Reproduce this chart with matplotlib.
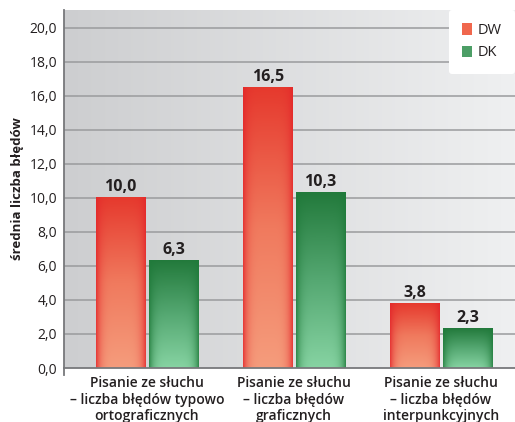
import numpy as np
import matplotlib.pyplot as plt
from matplotlib.patches import Patch
from matplotlib.colors import LinearSegmentedColormap

plt.rcParams['font.family'] = ['Open Sans', 'DejaVu Sans']

categories = ["Pisanie ze słuchu\n– liczba błędów typowo\nortograficznych",
              "Pisanie ze słuchu\n– liczba błędów\ngraficznych",
              "Pisanie ze słuchu\n– liczba błędów\ninterpunkcyjnych"]
dw = [10.0, 16.5, 3.8]
dk = [6.3, 10.3, 2.3]

fig = plt.figure(figsize=(5.15, 4.22), dpi=100)
ax = fig.add_axes([64/515, 54/422, 1 - 64/515, 358/422])

ymax = 21.05
xmin, xmax = -0.565, 2.503
ax.set_xlim(xmin, xmax)
ax.set_ylim(0, ymax)

# tlo z gradientem
bg = LinearSegmentedColormap.from_list("bg", ["#cdced0", "#eff0f1"])
ax.imshow(np.linspace(0, 1, 256).reshape(1, -1), cmap=bg, aspect='auto',
          extent=[xmin, xmax, 0, ymax], zorder=0)

for y in np.arange(2, 21, 2):
    ax.axhline(y, color="#9a9b9d", lw=1.1, zorder=1)

red = LinearSegmentedColormap.from_list("r", ["#f59c7c", "#f07a5e", "#e63a2e"])
green = LinearSegmentedColormap.from_list("g", ["#86d3a2", "#55a872", "#237a3c"])

w = 0.34
gap = 0.02
x = np.arange(len(categories))


def grad_bar(xc, h, cmap, edge):
    # pionowy gradient + ciemniejsze brzegi
    v = np.linspace(0, 1, 100).reshape(-1, 1)
    hgr = np.abs(np.linspace(-1, 1, 60)).reshape(1, -1) ** 5
    img = cmap(np.repeat(v, 60, axis=1))
    ec = np.array(plt.matplotlib.colors.to_rgba(edge))
    img = img * (1 - 0.8 * hgr[..., None]) + ec * 0.8 * hgr[..., None]
    ax.imshow(img, origin='lower', aspect='auto',
              extent=[xc - w/2, xc + w/2, 0, h], zorder=2)


for i in range(len(categories)):
    grad_bar(x[i] - w/2 - gap/2, dw[i], red, "#e3262a")
    grad_bar(x[i] + w/2 + gap/2, dk[i], green, "#1f7a3a")
    ax.text(x[i] - w/2 - gap/2, dw[i] + 0.15, f"{dw[i]:.1f}".replace(".", ","),
            ha='center', va='bottom', fontsize=11.5, fontweight='bold', color="#231f20")
    ax.text(x[i] + w/2 + gap/2, dk[i] + 0.15, f"{dk[i]:.1f}".replace(".", ","),
            ha='center', va='bottom', fontsize=11.5, fontweight='bold', color="#231f20")

ax.set_xticks(x)
ax.set_xticklabels(categories, fontsize=10, fontweight='semibold', color="#231f20",
                   linespacing=1.2)
ax.set_yticks(np.arange(0, 21, 2))
ax.set_yticklabels([f"{v:.1f}".replace(".", ",") for v in np.arange(0, 21, 2)],
                   fontsize=10, color="#231f20")
ax.tick_params(axis='x', length=0, pad=6)
ax.tick_params(axis='y', length=0, pad=5)
ax.set_ylabel("średnia liczba błędów", fontsize=9.5, fontweight='bold', color="#231f20", labelpad=4)

for s in ['top', 'right']:
    ax.spines[s].set_visible(False)
ax.spines['left'].set_color("#77787b")
ax.spines['bottom'].set_color("#77787b")
ax.spines['left'].set_linewidth(1.3)
ax.spines['bottom'].set_linewidth(1.3)
ax.spines['left'].set_zorder(3)
ax.spines['bottom'].set_zorder(3)
ax.plot([xmin, xmin], [0, -0.4], color="#77787b", lw=1.3, clip_on=False, zorder=3)

handles = [Patch(facecolor="#f0674d", edgecolor="none", label="DW"),
           Patch(facecolor="#4c9e66", edgecolor="none", label="DK")]
leg = ax.legend(handles=handles, loc='upper right', fontsize=10.5, frameon=True,
                fancybox=True, handlelength=0.7, handleheight=0.8, handletextpad=0.4,
                borderpad=0.9, labelspacing=0.5, bbox_to_anchor=(1.0, 1.0),
                borderaxespad=0)
leg.get_frame().set_facecolor("white")
leg.get_frame().set_edgecolor("none")
leg.get_frame().set_alpha(1)
for t in leg.get_texts():
    t.set_color("#231f20")

fig.savefig("out.png", dpi=100)
